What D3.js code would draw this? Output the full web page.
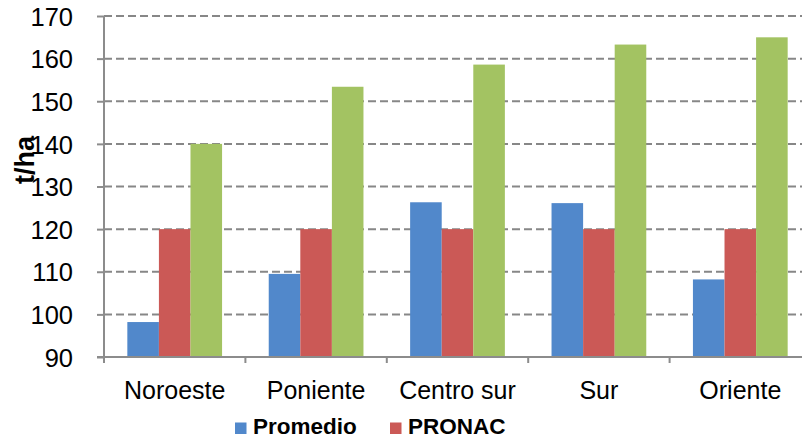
<!DOCTYPE html>
<html>
<head>
<meta charset="utf-8">
<script src="https://cdn.jsdelivr.net/npm/d3@7"></script>
<style>
  body { margin: 0; background: #fff; }
  svg { display: block; font-family: "Liberation Sans", Arial, sans-serif; }
</style>
</head>
<body>
<svg id="chart" width="802" height="440"></svg>
<script>
// Regions and yields (t/ha)
const categories = ["Noroeste", "Poniente", "Centro sur", "Sur", "Oriente"];
const seriesNames = ["Promedio", "PRONAC", "Máximo"];
const promedio = [98.2, 109.5, 126.3, 126.1, 108.2];
const pronac = [120, 120, 120, 120, 120];
const maximo = [140, 153.4, 158.6, 163.3, 165.0];
const yTicks = [90, 100, 110, 120, 130, 140, 150, 160, 170];
const colors = ["#5188CB", "#CB5956", "#A3C362"];

const seriesValues = [promedio, pronac, maximo];
const svg = d3.select("#chart");

const plot = { left: 104, right: 811, top: 16, bottom: 357 };

const x = d3.scaleBand().domain(categories).range([plot.left, plot.right]).paddingInner(0.33).paddingOuter(0.165);
const xs = d3.scaleBand().domain(seriesNames).range([0, x.bandwidth()]);
const y = d3.scaleLinear().domain([90, 170]).range([plot.bottom, plot.top]);

// Dashed gridlines
svg.append("g").selectAll("line").data(yTicks.filter(t => t > 90)).join("line")
  .attr("x1", plot.left).attr("x2", plot.right)
  .attr("y1", d => y(d)).attr("y2", d => y(d))
  .attr("stroke", "#878787").attr("stroke-width", 2).attr("stroke-dasharray", "8,4");

// Bars
const groups = svg.append("g").selectAll("g").data(categories).join("g")
  .attr("transform", d => `translate(${x(d)},0)`);
groups.selectAll("rect").data((c, i) => seriesNames.map((s, k) => ({ s, k, v: seriesValues[k][i] }))).join("rect")
  .attr("x", d => xs(d.s)).attr("width", xs.bandwidth())
  .attr("y", d => y(d.v)).attr("height", d => y(90) - y(d.v))
  .attr("fill", d => colors[d.k]);

// Y axis
const yAxis = svg.append("g").attr("transform", `translate(${plot.left},0)`)
  .call(d3.axisLeft(y).tickValues(yTicks).tickSize(7).tickSizeOuter(0).tickPadding(24));
yAxis.select(".domain").attr("stroke", "#8c8c8c").attr("stroke-width", 2)
  .attr("d", `M0,${plot.top}V${plot.bottom + 6}`);
yAxis.selectAll(".tick line").attr("stroke", "#8c8c8c").attr("stroke-width", 2);
yAxis.selectAll(".tick text").attr("font-size", 25.5).attr("fill", "#000").attr("dy", "0.36em");

// X axis: labels centred in each band, tick marks on band boundaries
const xAxis = svg.append("g").attr("transform", `translate(0,${plot.bottom})`)
  .call(d3.axisBottom(x).tickSize(0).tickPadding(24));
xAxis.select(".domain").attr("stroke", "#8c8c8c").attr("stroke-width", 2)
  .attr("d", `M${plot.left - 7},0H${plot.right}`);
xAxis.selectAll(".tick text").attr("font-size", 25).attr("fill", "#000");
const step = x.step();
xAxis.append("g").selectAll("line").data(categories.slice(1)).join("line")
  .attr("x1", d => x(d) - x.paddingInner() * step / 2)
  .attr("x2", d => x(d) - x.paddingInner() * step / 2)
  .attr("y1", 0).attr("y2", 6)
  .attr("stroke", "#8c8c8c").attr("stroke-width", 2);

// Y axis title
svg.append("text").attr("transform", "translate(34,160) rotate(-90)")
  .attr("text-anchor", "middle").attr("font-size", 27).attr("font-weight", "bold").text("t/ha");

// Legend (first two series)
const legend = svg.append("g").selectAll("g").data(seriesNames.slice(0, 2)).join("g")
  .attr("transform", (d, i) => `translate(${[235, 390][i]},422.5)`);
legend.append("rect").attr("width", 11.5).attr("height", 11.5).attr("fill", (d, i) => colors[i]);
legend.append("text").attr("x", 18).attr("y", 11.5).attr("font-size", 22.5).attr("font-weight", "bold").text(d => d);
</script>
</body>
</html>
